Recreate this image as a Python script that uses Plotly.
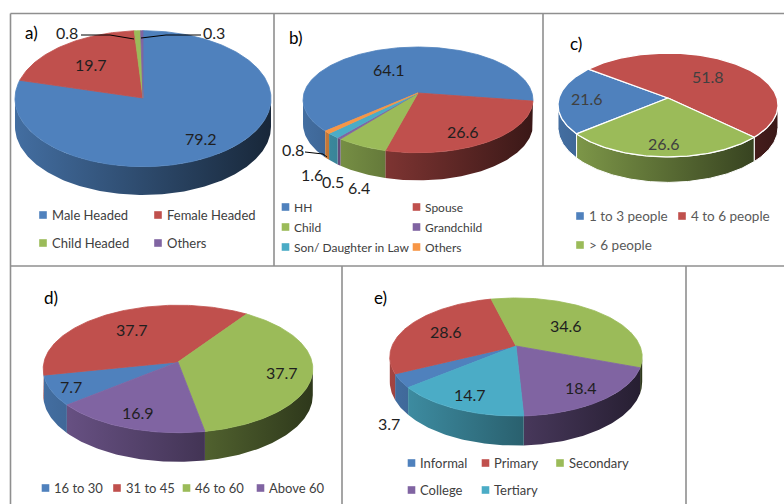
import math
import plotly.graph_objects as go

# ---------------- data ----------------
a_labels = ["Male Headed", "Female Headed", "Child Headed", "Others"]
a_values = [79.2, 19.7, 0.8, 0.3]
b_labels = ["HH", "Spouse", "Child", "Grandchild", "Son/ Daughter in Law", "Others"]
b_values = [64.1, 26.6, 6.4, 0.5, 1.6, 0.8]
c_labels = ["1 to 3 people", "4 to 6 people", "> 6 people"]
c_values = [21.6, 51.8, 26.6]
d_labels = ["16 to 30", "31 to 45", "46 to 60", "Above 60"]
d_values = [7.7, 37.7, 37.7, 16.9]
e_labels = ["Informal", "Primary", "Secondary", "College", "Tertiary"]
e_values = [3.7, 28.6, 34.6, 18.4, 14.7]
panel_tags = ["a)", "b)", "c)", "d)", "e)"]

# ---------------- styles ----------------
BLUE, RED, GREEN, PURPLE, TEAL, ORANGE = "#4F81BD", "#C0504D", "#9BBB59", "#8064A2", "#4BACC6", "#F79646"
FONT = "Lato"
W, H = 784, 504

panels = [
    dict(tag="a)", tag_xy=(23, 32), labels=a_labels, values=a_values,
         colors=[BLUE, RED, GREEN, PURPLE],
         cx=143, cy=98, rx=128, ry=68, p=0.01, D=28, start=90,
         lab_r=[0.74, 0.64, None, None], lab_ang=[None, None, None, None],
         out_lab={2: (66.5, 32), 3: (213.5, 32)},
         leaders=["M81,35 L110,35 L134,39", "M141,38 L166,35 L201,35"],
         lab_color="#1f1f1f", edge=None,
         leg_cols=[43, 158], leg_rows=[215, 243], leg_size=13, leg_color="#404040"),
    dict(tag="b)", tag_xy=(287, 37), labels=b_labels, values=b_values,
         colors=[BLUE, RED, GREEN, PURPLE, TEAL, ORANGE],
         cx=418, cy=93, rx=114, ry=52, p=0.13, D=24, start=222,
         lab_r=[0.55, 0.77, None, None, None, None], lab_ang=[119, -62, None, None, None, None],
         out_lab={2: (359, 187), 3: (333, 181), 4: (311.5, 174), 5: (292.5, 149)},
         leaders=["M305,152 L323,154 L327,157"],
         lab_color="#1f1f1f", edge=None,
         leg_cols=[285.5, 416.5], leg_rows=[207, 227, 247], leg_size=12, leg_color="#404040"),
    dict(tag="c)", tag_xy=(568, 43), labels=c_labels, values=c_values,
         colors=[BLUE, RED, GREEN],
         cx=668, cy=98, rx=109, ry=51, p=0.135, D=22, start=220,
         lab_r=[0.74, 0.6, 0.8], lab_ang=[None, None, None],
         out_lab={}, leaders=[],
         lab_color="#404040", edge="white",
         leg_cols=[580, 682], leg_rows=[216, 245], leg_size=13.5, leg_color="#595959"),
    dict(tag="d)", tag_xy=(42, 297), labels=d_labels, values=d_values,
         colors=[BLUE, RED, GREEN, PURPLE],
         cx=178, cy=362, rx=134, ry=63, p=0.109, D=26, start=219.5,
         lab_r=[0.85, 0.65, 0.78, 0.79], lab_ang=[None, None, None, None],
         out_lab={}, leaders=[],
         lab_color="#1f1f1f", edge=None,
         leg_cols=[45.5, 117, 186.5, 260.5], leg_rows=[488], leg_size=13, leg_color="#404040"),
    dict(tag="e)", tag_xy=(372, 297), labels=e_labels, values=e_values,
         colors=[BLUE, RED, GREEN, PURPLE, TEAL],
         cx=516, cy=346, rx=124, ry=57, p=0.186, D=24, start=220,
         lab_r=[None, 0.65, 0.57, 0.79, 0.8], lab_ang=[None, None, None, None, None],
         out_lab={0: (389, 423)}, leaders=[],
         lab_color="#1f1f1f", edge=None,
         leg_cols=[411.5, 485.5, 560], leg_rows=[463, 490], leg_size=13, leg_color="#404040"),
]


def shade(hexc, f):
    h = hexc.lstrip("#")
    r, g, b = (int(h[i:i + 2], 16) for i in (0, 2, 4))
    return "rgb(%d,%d,%d)" % (round(r * f), round(g * f), round(b * f))


def proj(P, r, deg):
    t = math.radians(deg)
    c, s = r * math.cos(t), r * math.sin(t)
    k = 1.0 / (1.0 + P["p"] * s)
    return P["cx"] + P["rx"] * c * k, P["cy"] - P["ry"] * s * k, k


def arc(P, a0, a1):
    n = max(2, int(abs(a0 - a1) / 1.0) + 2)
    return [a0 + (a1 - a0) * i / (n - 1) for i in range(n)]


fig = go.Figure()
wall_traces, top_traces, annotations, shapes = [], [], [], []

for P in panels:
    vals = P["values"]
    bounds = []
    cum = 0.0
    for v in vals:
        b = P["start"] - cum * 3.6
        e = b - v * 3.6
        bounds.append((b, e))
        cum += v
    delta = math.degrees(math.asin(P["p"]))
    rx_full = P["rx"] / math.sqrt(1 - P["p"] ** 2)
    for (b, e), col, name in zip(bounds, P["colors"], P["labels"]):
        # front wall (visible part)
        for n in range(-2, 3):
            lo = max(e, -180 + delta + 360 * n)
            hi = min(b, -delta + 360 * n)
            if hi > lo:
                angs = arc(P, lo, hi)
                xs, ys, xb, yb = [], [], [], []
                for a in angs:
                    x, y, k = proj(P, 1.0, a)
                    xs.append(x); ys.append(y)
                    xb.append(x); yb.append(y + P["D"] * k)
                X = xs + xb[::-1] + [xs[0]]
                Y = ys + yb[::-1] + [ys[0]]
                wall_traces.append(go.Scatter(
                    x=X, y=Y, mode="lines", fill="toself",
                    fillgradient=dict(type="horizontal",
                                      colorscale=[[0, shade(col, 0.85)], [1, shade(col, 0.3)]],
                                      start=P["cx"] - rx_full, stop=P["cx"] + rx_full),
                    line=dict(width=1 if P["edge"] else 0, color=P["edge"] or col),
                    hoverinfo="skip", name=name, showlegend=False))
        # top face
        ax0, ay0, _ = proj(P, 0, 0)
        X, Y = [ax0], [ay0]
        for a in arc(P, b, e):
            x, y, _ = proj(P, 1.0, a)
            X.append(x); Y.append(y)
        X.append(ax0); Y.append(ay0)
        top_traces.append(go.Scatter(
            x=X, y=Y, mode="lines", fill="toself", fillcolor=col,
            line=dict(width=1.3 if P["edge"] else 0.8, color=P["edge"] or col),
            hoverinfo="skip", name=name, showlegend=False))

    # data labels
    for i, ((b, e), v) in enumerate(zip(bounds, vals)):
        txt = "%.1f" % v
        if i in P["out_lab"]:
            x, y = P["out_lab"][i]
        else:
            ang = P["lab_ang"][i] if P["lab_ang"][i] is not None else (b + e) / 2
            x, y, _ = proj(P, P["lab_r"][i], ang)
        annotations.append(dict(x=x, y=y, xref="x", yref="y", text=txt, showarrow=False,
                                xanchor="center", yanchor="middle",
                                font=dict(family=FONT, size=16, color=P["lab_color"])))
    for path in P["leaders"]:
        shapes.append(dict(type="path", path=path, xref="x", yref="y",
                           line=dict(color="black", width=1)))

    # panel tag
    annotations.append(dict(x=P["tag_xy"][0], y=P["tag_xy"][1], xref="x", yref="y",
                            text=P["tag"], showarrow=False, xanchor="left", yanchor="middle",
                            font=dict(family=FONT, size=17, color="black")))

    # legend
    ncol = len(P["leg_cols"])
    for i, (name, col) in enumerate(zip(P["labels"], P["colors"])):
        cxs = P["leg_cols"][i % ncol]
        cyy = P["leg_rows"][i // ncol]
        hs = 3.8
        shapes.append(dict(type="rect", xref="x", yref="y", x0=cxs - hs, x1=cxs + hs,
                           y0=cyy - hs, y1=cyy + hs, fillcolor=col, line=dict(width=0)))
        annotations.append(dict(x=cxs + 6.5, y=cyy, xref="x", yref="y", text=name,
                                showarrow=False, xanchor="left", yanchor="middle",
                                font=dict(family=FONT, size=P["leg_size"], color=P["leg_color"])))

for t in wall_traces + top_traces:
    fig.add_trace(t)

# panel borders
border = dict(color="#8f8f8f", width=1.6)
for (x0, y0, x1, y1) in [(10.5, 13.5, 784, 13.5), (10.5, 13.5, 10.5, 504),
                         (274, 13.5, 274, 266), (543, 13.5, 543, 266),
                         (10.5, 266, 784, 266), (342, 266, 342, 504), (686, 266, 686, 504)]:
    shapes.append(dict(type="line", xref="x", yref="y", x0=x0, y0=y0, x1=x1, y1=y1,
                       line=border, layer="above"))

fig.update_layout(
    width=W, height=H, margin=dict(l=0, r=0, t=0, b=0),
    paper_bgcolor="white", plot_bgcolor="white", showlegend=False,
    xaxis=dict(range=[0, W], visible=False, fixedrange=True),
    yaxis=dict(range=[H, 0], visible=False, fixedrange=True),
    annotations=annotations, shapes=shapes,
)
fig.write_html("out.html")
